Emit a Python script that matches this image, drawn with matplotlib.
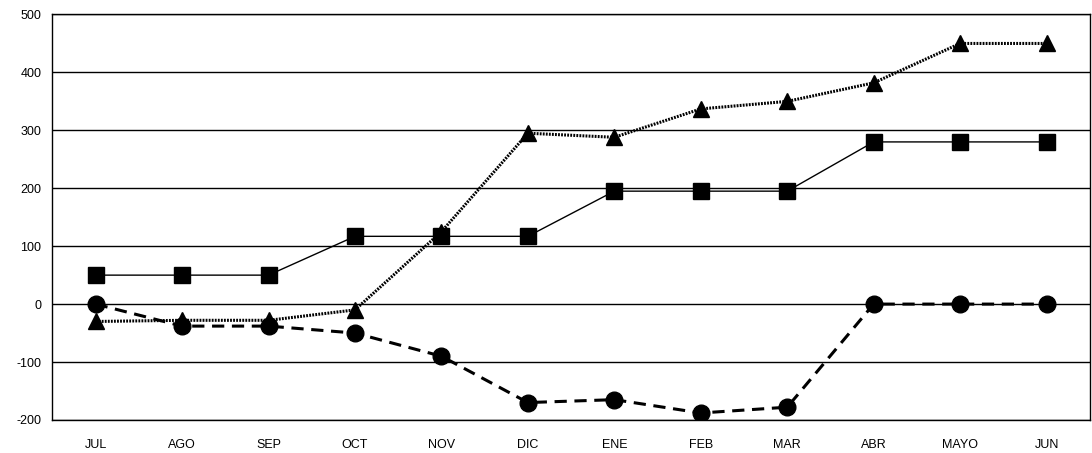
import matplotlib
matplotlib.use("Agg")
import matplotlib.pyplot as plt

plt.rcParams['font.family'] = ['Liberation Sans', 'DejaVu Sans']
plt.rcParams['axes.unicode_minus'] = False

months = ["JUL","AGO","SEP","OCT","NOV","DIC","ENE","FEB","MAR","ABR","MAYO","JUN"]
squares = [50,50,50,117,117,117,195,195,195,280,280,280]
triangles = [-30,-28,-28,-10,125,295,288,337,350,382,450,450]
circles = [0,-38,-38,-50,-90,-170,-165,-188,-178,0,0,0]

fig = plt.figure(figsize=(10.92,4.53), dpi=100)
ax = fig.add_axes([0.048, 0.073, 0.95, 0.895])
x = range(len(months))
ax.plot(x, squares, color="black", lw=1, marker="s", ms=11)
ax.plot(x, triangles, color="black", lw=2.2, ls=(0,(0.6,0.4)), marker="^", ms=11)
ax.plot(x, circles, color="black", lw=2.2, ls=(0,(4,2.5)), marker="o", ms=12)
ax.set_xlim(-0.5, 11.5)
ax.set_ylim(-200, 500)
ax.set_yticks(range(-200, 501, 100))
ax.set_xticks(list(x))
ax.set_xticklabels(months)
ax.tick_params(labelsize=9, length=0, pad=8)
ax.tick_params(axis="x", pad=14)
ax.grid(axis="y", color="black", lw=1)
ax.set_axisbelow(True)
for s in ax.spines.values():
    s.set_linewidth(1)
fig.savefig("out.png")
